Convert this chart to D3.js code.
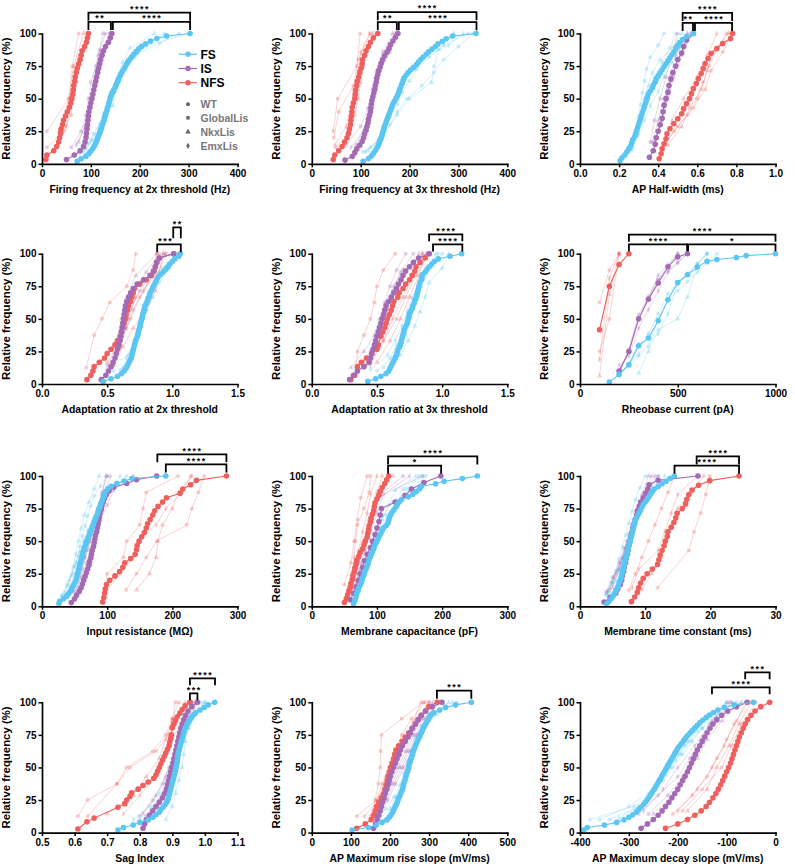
<!DOCTYPE html>
<html><head><meta charset="utf-8">
<script src="https://cdn.jsdelivr.net/npm/d3@7"></script>
<style>
body{margin:0;background:#fff}
svg text{font-family:"Liberation Sans",Arial,Helvetica,sans-serif;font-weight:bold}
</style>
</head><body>
<svg id="chart" width="795" height="867"></svg>
<script>
// ---------------- DATA (raw per-cell values; plotted as cumulative relative frequency) ----------------
const cellTypes = ["FS","IS","NFS"];
const genotypes = ["WT","GlobalLis","NkxLis","EmxLis"];

// 1. Firing frequency at 2x threshold (Hz)
const fr2_FS = [72,80,90,96,100,104,107,110,112,114,116,118,120,122,123,125,127,128,130,131,133,134,136,137,139,140,142,144,147,150,152,154,156,159,161,164,167,170,173,176,180,184,188,193,198,204,212,222,235,255,303];
const fr2_IS = [50,66,78,85,88,90,91,92,93,94,95,96,98,100,102,104,106,108,110,112,114,116,118,120,123,126,130,136,140,143];
const fr2_NFS = [8,10,24,30,34,36,38,39,42,44,48,52,56,59,61,63,64,65,67,68,70,72,75,78,80,82,87,91,93,95];
const fr2_FSg = [[75,95,105,118,125,135,140,150,160,175,195,240,280],[85,105,120,128,140,148,158,170,185,210,250],[90,110,125,145,150,155,165,180,230],[80,100,115,130,138,145,160,172,190,215,300]];
const fr2_ISg = [[60,80,90,95,100,110,118,130],[85,95,100,105,112,122,138],[75,92,100,108,115,125],[70,88,96,104,110,120,140]];
const fr2_NFSg = [[10,45,60,62,70,75,88,95],[10,55,62,75],[35,55,65,85],[30,50,58,65,72,82,92]];
const fr2_sig = [[95,303,1,"****"],[95,141,0,"**"],[145,303,0,"****"]];

// 2. Firing frequency at 3x threshold (Hz)
const fr3_FS = [105,116,122,126,130,133,136,138,140,142,144,145,147,148,150,152,154,156,158,160,162,164,166,169,172,175,177,179,181,183,185,187,189,193,197,202,208,214,218,223,228,234,239,246,253,258,267,275,288,336];
const fr3_IS = [68,83,88,92,98,103,106,108,111,113,115,116,118,120,121,122,123,125,127,129,130,132,133,135,137,140,142,145,149,154,158,161,166,171,176];
const fr3_NFS = [44,47,55,62,67,72,75,77,79,80,81,82,83,85,88,89,90,92,93,96,98,101,103,104,108,111,116,120,126,135];
const fr3_FSg = [[105,140,150,160,175,185,200,215,240,270,320],[115,145,160,175,195,225,250,270,300,330],[120,150,175,200,245,250,260,290],[110,135,145,155,165,175,190,210,230,280,310]];
const fr3_ISg = [[70,100,115,125,135,150,170],[95,112,120,128,140,160,178],[90,110,118,125,132,145,165],[80,105,117,122,130,138,155,175]];
const fr3_NFSg = [[45,55,85,95,120],[44,53,92,99],[50,78,88,95,100,105,112,125],[47,70,80,85,95,100,118]];
const fr3_sig = [[135,337,1,"****"],[135,174,0,"**"],[178,337,0,"****"]];

// 3. AP Half-width (ms)
const hw_FS = [0.205,0.215,0.23,0.24,0.25,0.26,0.265,0.27,0.28,0.285,0.29,0.295,0.30,0.305,0.31,0.315,0.32,0.325,0.33,0.335,0.34,0.345,0.35,0.36,0.37,0.375,0.385,0.39,0.40,0.41,0.42,0.43,0.44,0.45,0.46,0.47,0.48,0.49,0.50,0.51,0.525,0.545,0.58];
const hw_IS = [0.355,0.375,0.385,0.39,0.40,0.41,0.42,0.425,0.43,0.44,0.45,0.455,0.465,0.475,0.49,0.50,0.52,0.53,0.545,0.58];
const hw_NFS = [0.405,0.415,0.42,0.43,0.44,0.445,0.46,0.48,0.50,0.52,0.53,0.545,0.56,0.57,0.58,0.595,0.605,0.62,0.63,0.64,0.655,0.67,0.70,0.73,0.77,0.78];
const hw_FSg = [[0.25,0.27,0.29,0.30,0.31,0.32,0.33,0.34,0.36,0.40,0.43],[0.26,0.29,0.31,0.33,0.35,0.38,0.42,0.46,0.49],[0.25,0.28,0.30,0.32,0.33,0.35,0.37,0.41,0.48,0.52],[0.27,0.30,0.33,0.36,0.40,0.43,0.47,0.51,0.55]];
const hw_ISg = [[0.36,0.38,0.41,0.44,0.47,0.50],[0.38,0.42,0.45,0.48,0.52,0.57],[0.37,0.40,0.43,0.46,0.49,0.55],[0.39,0.43,0.46,0.50,0.58]];
const hw_NFSg = [[0.42,0.48,0.55,0.60,0.63,0.66,0.70,0.75],[0.43,0.50,0.58,0.64,0.67,0.73,0.78],[0.45,0.52,0.56,0.62,0.65,0.68,0.76],[0.44,0.47,0.53,0.60,0.65,0.70]];
const hw_sig = [[0.525,0.778,1,"****"],[0.525,0.578,0,"**"],[0.588,0.778,0,"****"]];

// 4. Adaptation ratio at 2x threshold
const ad2_FS = [0.47,0.53,0.58,0.61,0.63,0.645,0.655,0.665,0.675,0.685,0.69,0.695,0.70,0.705,0.71,0.715,0.72,0.73,0.735,0.74,0.745,0.75,0.755,0.76,0.765,0.77,0.775,0.78,0.785,0.79,0.80,0.81,0.815,0.825,0.83,0.84,0.85,0.86,0.87,0.88,0.89,0.91,0.93,0.95,0.965,0.98,1.0,1.02,1.05,1.06];
const ad2_IS = [0.455,0.49,0.51,0.53,0.545,0.56,0.57,0.58,0.59,0.60,0.605,0.61,0.615,0.62,0.625,0.63,0.635,0.64,0.65,0.665,0.68,0.70,0.73,0.78,0.83,0.855,0.87,0.88,0.90,1.01];
const ad2_NFS = [0.345,0.375,0.39,0.40,0.44,0.48,0.50,0.53,0.56,0.58,0.60,0.61,0.62,0.63,0.64,0.645,0.655,0.665,0.68,0.69,0.70,0.71,0.75,0.80,0.84,0.86,0.87,0.88,0.90,1.01];
const ad2_FSg = [[0.55,0.65,0.70,0.74,0.77,0.80,0.84,0.88,0.95,1.02],[0.60,0.68,0.73,0.77,0.80,0.85,0.90,0.98,1.05],[0.50,0.66,0.71,0.76,0.79,0.83,0.87,0.92,1.00],[0.62,0.70,0.75,0.78,0.82,0.86,0.93,1.03]];
const ad2_ISg = [[0.50,0.58,0.62,0.66,0.70,0.80,0.90],[0.55,0.60,0.64,0.68,0.75,0.85,0.95],[0.45,0.57,0.61,0.65,0.72,0.88],[0.52,0.60,0.65,0.70,0.78,0.86,0.93]];
const ad2_NFSg = [[0.34,0.40,0.40,0.46,0.52,0.65,0.70,0.72],[0.50,0.60,0.68,0.75,0.85,0.88],[0.55,0.62,0.70,0.80,0.87,0.90,0.93],[0.45,0.58,0.66,0.72,0.88,0.95]];
const ad2_sig = [[1.007,1.065,1,"**"],[0.884,1.065,0,"***",0.945]];

// 5. Adaptation ratio at 3x threshold
const ad3_FS = [0.43,0.49,0.53,0.57,0.59,0.60,0.61,0.62,0.63,0.64,0.65,0.655,0.66,0.67,0.68,0.685,0.69,0.695,0.70,0.705,0.71,0.72,0.73,0.735,0.74,0.745,0.75,0.76,0.77,0.775,0.785,0.79,0.80,0.805,0.81,0.815,0.82,0.825,0.83,0.84,0.845,0.85,0.87,0.885,0.90,0.92,0.94,0.97,1.06,1.15];
const ad3_IS = [0.29,0.32,0.35,0.40,0.44,0.45,0.46,0.47,0.48,0.49,0.50,0.51,0.52,0.53,0.54,0.55,0.56,0.57,0.59,0.61,0.63,0.65,0.665,0.685,0.70,0.72,0.75,0.78,0.82,0.90];
const ad3_NFS = [0.30,0.33,0.35,0.35,0.38,0.42,0.46,0.50,0.51,0.53,0.53,0.545,0.56,0.57,0.58,0.595,0.61,0.62,0.63,0.66,0.67,0.70,0.72,0.75,0.77,0.79,0.80,0.83,0.87,0.90];
const ad3_FSg = [[0.50,0.60,0.65,0.70,0.74,0.78,0.82,0.86,0.92,1.00],[0.55,0.65,0.72,0.76,0.80,0.84,0.88,0.95],[0.60,0.68,0.74,0.79,0.83,0.87,0.90,1.00,1.05],[0.45,0.58,0.64,0.69,0.73,0.77,0.82,0.88,0.97]];
const ad3_ISg = [[0.35,0.45,0.50,0.53,0.56,0.60,0.65,0.72],[0.42,0.50,0.55,0.58,0.62,0.68,0.78],[0.30,0.40,0.48,0.52,0.57,0.63,0.70,0.85],[0.45,0.52,0.57,0.62,0.66,0.72,0.82]];
const ad3_NFSg = [[0.34,0.35,0.40,0.45,0.48,0.50,0.55,0.64],[0.45,0.55,0.65,0.72,0.80,0.90],[0.50,0.60,0.68,0.75,0.82,0.88],[0.40,0.55,0.62,0.70,0.78,0.85]];
const ad3_sig = [[0.90,1.155,1,"****"],[0.93,1.155,0,"****"]];

// 6. Rheobase current (pA)
const rb_FS = [150,200,200,200,200,250,250,250,250,250,300,300,300,300,300,300,300,300,300,300,350,350,350,350,400,400,400,400,400,400,400,400,400,450,450,450,450,450,450,450,450,450,450,450,500,500,500,500,500,500,500,500,500,550,550,550,550,600,600,600,600,650,650,650,700,800,850,1000];
const rb_IS = [200,200,200,200,250,250,250,250,250,250,300,300,300,300,300,300,300,300,300,300,350,350,350,350,350,350,400,400,400,400,400,450,450,450,450,450,500,500,500,550];
const rb_NFS = [100,100,100,100,100,150,150,150,150,200,200,250];
const rb_FSg = [[200,250,300,300,350,400,400,450,450,500,550,600,650],[200,250,300,350,400,400,400,450,450,500,550,600,650,700],[300,350,350,400,400,500,550,550,600,600,600,650],[200,250,300,400,400,450,450,500,500,500,550,600,650]];
const rb_ISg = [[200,200,250,250,250,300,300,300,300,300,350,350,350,400,400,400,450,450,500,500],[200,250,250,250,300,300,300,300,350,350,400,400,450,500,550],[200,250,250,300,300,300,350,350,400,400,450,500],[200,200,250,300,300,300,350,350,400,400,450,450,500,550]];
const rb_NFSg = [[100,100,100,100,100,150,150,200],[100,150,200,200],[100,150,150,150,150,150,150,150,150,150,150,200,200,200,200,200],[100,100,100,150,150,150,150,150,150,150,150,150,150,200,200,200]];
const rb_sig = [[250,1000,1,"****"],[250,548,0,"****"],[553,1000,0,"*"]];

// 7. Input resistance (MΩ)
const ir_FS = [26,27,33,38,41,44,46,48,50,52,53,54,55,56,57,58,59,60,61,62,63,64,65,67,68,70,71,73,74,76,77,79,80,82,83,85,86,87,89,90,92,93,95,96,98,101,106,115,126,138,190];
const ir_IS = [45,50,53,57,60,62,64,66,68,70,72,73,75,76,77,79,80,81,82,84,85,86,87,88,89,91,92,94,96,99,103,110,130,145,176];
const ir_NFS = [93,95,96,97,99,104,112,119,124,127,136,143,145,146,149,153,157,160,162,166,170,173,178,185,191,212,216,228,237,283];
const ir_FSg = [[30,40,45,50,55,58,62,66,70,75,80,90,100],[35,45,50,55,60,65,72,80,88,98,110,130],[35,42,48,52,56,60,65,72,80,88],[30,38,46,52,58,64,70,78,86,95,105,120]];
const ir_ISg = [[45,55,65,72,78,85,92,100],[50,60,68,75,82,90,100,110,140],[55,62,70,78,85,92,98],[48,58,66,74,80,88,96,105]];
const ir_NFSg = [[96,100,125,130,150,155,160,209],[129,145,160,176,222,230,240,249],[145,165,175,178,185,200,210,230],[100,120,140,148,175,190,215,228]];
const ir_sig = [[177,283,1,"****"],[190,283,0,"****"]];

// 8. Membrane capacitance (pF)
const cm_FS = [64,66,67,68,69,71,72,74,76,77,78,80,81,83,84,86,87,88,90,91,93,95,96,98,100,102,104,106,108,110,114,117,118,119,121,123,126,129,131,134,138,148,155,160,165,168,190,203,231,254];
const cm_IS = [59,64,68,71,74,78,81,85,90,93,97,100,103,105,107,128,143,153,172,198];
const cm_NFS = [50,53,55,57,59,60,62,63,65,66,68,69,72,74,78,80,82,85,86,87,88,90,91,93,95,96,97,100,103,105,108,112,115,118];
const cm_FSg = [[65,72,80,88,95,102,110,125,140,165],[70,78,86,94,102,110,120,135,150,175],[68,75,84,92,100,108,118,128,160],[66,74,82,90,98,106,115,130,145,170]];
const cm_ISg = [[60,70,78,85,95,105,140],[65,75,82,90,100,110,170],[62,72,80,88,98,125],[68,76,84,93,103,150]];
const cm_NFSg = [[50,60,65,70,75,85],[55,62,65,67,70,80,88,90],[62,68,72,80,88,95,100,108],[58,65,72,78,85,90,100]];
const cm_sig = [[117,254,1,"****"],[117,198.5,0,"*"]];

// 9. Membrane time constant (ms)
const tau_FS = [4.1,4.5,4.8,5.1,5.3,5.5,5.7,5.9,6.0,6.2,6.3,6.4,6.5,6.6,6.7,6.8,6.9,7.0,7.1,7.2,7.3,7.4,7.5,7.6,7.7,7.8,7.9,8.0,8.1,8.2,8.3,8.4,8.5,8.7,8.9,9.1,9.3,9.5,9.7,10.0,10.3,10.6,10.8,11.1,11.4,12.0,12.6,13.2,13.8,14.5];
const tau_IS = [3.7,4.6,5.5,5.8,6.2,6.4,6.5,6.7,6.8,7.0,7.1,7.3,7.4,7.5,7.7,7.8,8.0,8.1,8.3,8.5,8.7,8.8,9.1,9.3,9.7,10.1,10.4,10.6,12.0,18.1];
const tau_NFS = [7.9,8.4,8.8,9.0,9.3,9.7,10.3,11.1,11.9,12.1,12.3,12.6,12.9,13.1,13.4,13.5,14.0,14.4,14.7,14.9,15.7,16.2,16.4,16.7,17.2,18.2,19.9,24.4];
const tau_FSg = [[4.0,4.8,5.5,6.0,6.5,7.0,7.5,8.0,8.5,9.2,10.0],[4.5,5.5,6.2,6.8,7.4,8.0,8.7,9.5,10.5,12.0],[4.2,5.0,5.8,6.5,7.2,7.9,8.6,9.4,10.3,11.5,14.0],[4.0,5.0,6.0,6.6,7.2,7.8,8.4,9.0,9.8,11.0,13.0]];
const tau_ISg = [[4.0,5.0,6.0,6.8,7.5,8.2,9.0,10.5,12.0],[4.5,5.5,6.5,7.2,8.0,8.8,9.8,11.0],[5.0,6.0,7.0,7.8,8.6,9.5,10.5],[4.2,5.2,6.2,7.0,7.8,8.6,9.4,10.2,11.5]];
const tau_NFSg = [[7.5,8.5,9.5,10.5,11.5,12.5,13.5,14.5],[11.9,16.7,16.7,17.5,18.5,19.3,19.9],[9.5,11.0,12.5,13.0,14.0,15.0,17.0,19.0],[8.0,9.0,12.0,13.0,14.0,15.0,18.0]];
const tau_sig = [[17.9,24.4,1,"****"],[14.5,24.4,0,"****"]];

// 10. Sag Index
const sag_FS = [0.733,0.75,0.78,0.80,0.826,0.84,0.85,0.86,0.865,0.873,0.878,0.883,0.887,0.889,0.891,0.893,0.895,0.897,0.899,0.901,0.903,0.905,0.907,0.909,0.911,0.912,0.914,0.915,0.916,0.917,0.918,0.92,0.922,0.924,0.926,0.928,0.931,0.933,0.935,0.937,0.94,0.944,0.948,0.953,0.958,0.964,0.972,0.985,0.998,1.01,1.03];
const sag_IS = [0.81,0.815,0.82,0.83,0.84,0.85,0.86,0.87,0.877,0.882,0.886,0.889,0.892,0.895,0.898,0.902,0.905,0.908,0.911,0.914,0.917,0.92,0.923,0.926,0.93,0.935,0.94,0.948,0.96,0.977];
const sag_NFS = [0.61,0.638,0.638,0.66,0.733,0.733,0.733,0.754,0.76,0.77,0.775,0.795,0.81,0.826,0.843,0.85,0.855,0.86,0.865,0.87,0.875,0.88,0.885,0.89,0.892,0.895,0.897,0.90,0.90,0.905,0.91,0.915,0.923,0.93,0.939,0.954];
const sag_FSg = [[0.80,0.84,0.87,0.89,0.90,0.91,0.92,0.93,0.95,0.98],[0.82,0.86,0.88,0.90,0.91,0.92,0.935,0.95,0.97,1.00],[0.88,0.90,0.91,0.92,0.93,0.935,0.94,0.95,0.97,1.00],[0.78,0.83,0.86,0.88,0.90,0.91,0.925,0.94,0.96,0.99]];
const sag_ISg = [[0.80,0.84,0.87,0.89,0.91,0.92,0.94,0.96],[0.82,0.86,0.88,0.90,0.915,0.93,0.95,0.98],[0.81,0.85,0.88,0.90,0.92,0.935,0.96],[0.83,0.87,0.89,0.905,0.92,0.94,0.97]];
const sag_NFSg = [[0.61,0.64,0.73,0.76,0.84,0.88,0.90,0.91],[0.64,0.73,0.73,0.77,0.85,0.89,0.90,0.92],[0.70,0.78,0.82,0.86,0.88,0.90,0.94],[0.75,0.80,0.85,0.87,0.90,0.93,0.96]];
const sag_sig = [[0.954,1.031,1,"****"],[0.954,0.977,0,"***"]];

// 11. AP Maximum rise slope (mV/ms)
const rise_FS = [103,145,165,180,192,198,203,207,210,213,216,219,221,224,227,229,232,234,235,237,239,241,243,245,247,248,250,252,254,256,258,260,263,265,268,271,274,277,280,283,286,289,293,297,300,305,312,327,342,368,408];
const rise_IS = [158,163,167,171,175,178,181,185,188,192,195,198,201,205,209,214,218,223,227,232,239,246,252,258,265,272,280,291,308,333];
const rise_NFS = [115,137,152,158,162,166,171,178,184,187,190,193,195,198,201,205,209,212,215,222,231,239,248,256,265,272,280,291,299,321];
const rise_FSg = [[150,190,210,225,235,245,255,265,280,300,330],[180,205,220,232,242,252,262,275,290,320,370],[195,215,228,240,250,260,270,285,305,350],[170,200,215,230,240,250,260,272,290,315,360]];
const rise_ISg = [[160,180,200,220,240,255,270,300],[170,190,210,230,250,265,285,330],[165,185,205,225,245,260,280,310],[175,195,215,235,255,270,290,320]];
const rise_NFSg = [[115,165,180,200,215,230,255,290],[150,162,170,175,176,178,230,285],[160,175,190,220,240,260,280],[135,170,195,210,225,250,275,300]];
const rise_sig = [[320,408,0,"***"]];

// 12. AP Maximum decay slope (mV/ms)
const dec_FS = [-392,-385,-350,-325,-310,-300,-292,-285,-280,-275,-270,-266,-262,-258,-255,-252,-248,-245,-242,-239,-236,-233,-230,-227,-224,-221,-218,-215,-212,-209,-206,-203,-200,-196,-192,-188,-184,-180,-175,-170,-165,-160,-155,-149,-142,-135,-127,-118,-105,-85,-45];
const dec_IS = [-275,-262,-250,-240,-232,-225,-218,-212,-206,-200,-195,-190,-185,-180,-176,-172,-168,-164,-160,-155,-150,-145,-140,-134,-128,-120,-110,-98,-80,-58];
const dec_NFS = [-225,-200,-180,-165,-152,-142,-135,-128,-122,-117,-112,-108,-104,-100,-96,-92,-89,-86,-83,-80,-77,-74,-70,-66,-62,-57,-50,-42,-30,-12];
const dec_FSg = [[-340,-280,-250,-230,-210,-190,-170,-150,-120,-80],[-360,-300,-260,-235,-215,-195,-175,-150,-110,-60],[-320,-270,-245,-225,-205,-185,-160,-130,-100],[-380,-290,-255,-240,-220,-200,-180,-160,-140,-90]];
const dec_ISg = [[-260,-220,-190,-170,-150,-120,-90],[-280,-240,-200,-175,-150,-130,-100],[-250,-210,-185,-160,-140,-110,-70],[-270,-230,-200,-165,-135,-95]];
const dec_NFSg = [[-210,-170,-140,-120,-100,-80,-60],[-190,-150,-110,-90,-70,-40],[-180,-140,-120,-95,-75,-50],[-200,-160,-130,-105,-85,-55]];
const dec_sig = [[-62,-12,1,"***"],[-130,-12,0,"****"]];

// axis tick values
const ticks_fr = [0,100,200,300,400];
const ticks_hw = [0.0,0.2,0.4,0.6,0.8,1.0];
const ticks_ad = [0.0,0.5,1.0,1.5];
const ticks_rb = [0,500,1000];
const ticks_300 = [0,100,200,300];
const ticks_tau = [0,10,20,30];
const ticks_sag = [0.5,0.6,0.7,0.8,0.9,1.0,1.1];
const ticks_rise = [0,100,200,300,400,500];
const ticks_dec = [-400,-300,-200,-100,0];
const ticks_y = [0,25,50,75,100];

const xTitles = ["Firing frequency at 2x threshold (Hz)","Firing frequency at 3x threshold (Hz)","AP Half-width (ms)",
  "Adaptation ratio at 2x threshold","Adaptation ratio at 3x threshold","Rheobase current (pA)",
  "Input resistance (MΩ)","Membrane capacitance (pF)","Membrane time constant (ms)",
  "Sag Index","AP Maximum rise slope (mV/ms)","AP Maximum decay slope (mV/ms)"];
const yTitle = "Relative frequency (%)";

// ---------------- LAYOUT / STYLE ----------------
const COL = {FS:"#5BC6F2", IS:"#A46BB4", NFS:"#EE5F5D"};
const colX = [42, 311.8, 580];
const rowY = [33.5, 253.7, 476, 702.3];
const W = 195.5, H = 130.3;
const f1 = v => v.toFixed(1), f0 = v => String(v);

const panels = [
 {dom:[0,400], ticks:ticks_fr, fmt:f0, d:[fr2_FS,fr2_IS,fr2_NFS], g:[fr2_FSg,fr2_ISg,fr2_NFSg], sig:fr2_sig, lv:[11.6,20.8], len:[8,8]},
 {dom:[0,400], ticks:ticks_fr, fmt:f0, d:[fr3_FS,fr3_IS,fr3_NFS], g:[fr3_FSg,fr3_ISg,fr3_NFSg], sig:fr3_sig, lv:[11.3,21.3], len:[8,8]},
 {dom:[0,1], ticks:ticks_hw, fmt:f1, d:[hw_FS,hw_IS,hw_NFS], g:[hw_FSg,hw_ISg,hw_NFSg], sig:hw_sig, lv:[10.6,20.6], len:[8,8]},
 {dom:[0,1.5], ticks:ticks_ad, fmt:f1, d:[ad2_FS,ad2_IS,ad2_NFS], g:[ad2_FSg,ad2_ISg,ad2_NFSg], sig:ad2_sig, lv:[9.4,26.4], len:[8,11]},
 {dom:[0,1.5], ticks:ticks_ad, fmt:f1, d:[ad3_FS,ad3_IS,ad3_NFS], g:[ad3_FSg,ad3_ISg,ad3_NFSg], sig:ad3_sig, lv:[9.3,19.4], len:[7,7]},
 {dom:[0,1000], ticks:ticks_rb, fmt:f0, d:[rb_FS,rb_IS,rb_NFS], g:[rb_FSg,rb_ISg,rb_NFSg], sig:rb_sig, lv:[9.4,19], len:[7,7]},
 {dom:[0,300], ticks:ticks_300, fmt:f0, d:[ir_FS,ir_IS,ir_NFS], g:[ir_FSg,ir_ISg,ir_NFSg], sig:ir_sig, lv:[11.6,21.7], len:[8,8]},
 {dom:[0,300], ticks:ticks_300, fmt:f0, d:[cm_FS,cm_IS,cm_NFS], g:[cm_FSg,cm_ISg,cm_NFSg], sig:cm_sig, lv:[10.3,19.6], len:[8,8]},
 {dom:[0,30], ticks:ticks_tau, fmt:f0, d:[tau_FS,tau_IS,tau_NFS], g:[tau_FSg,tau_ISg,tau_NFSg], sig:tau_sig, lv:[10.3,19.6], len:[8,8]},
 {dom:[0.5,1.1], ticks:ticks_sag, fmt:f1, d:[sag_FS,sag_IS,sag_NFS], g:[sag_FSg,sag_ISg,sag_NFSg], sig:sag_sig, lv:[9,24], len:[7,7]},
 {dom:[0,500], ticks:ticks_rise, fmt:f0, d:[rise_FS,rise_IS,rise_NFS], g:[rise_FSg,rise_ISg,rise_NFSg], sig:rise_sig, lv:[11.6,20], len:[8,8]},
 {dom:[-400,0], ticks:ticks_dec, fmt:f0, d:[dec_FS,dec_IS,dec_NFS], g:[dec_FSg,dec_ISg,dec_NFSg], sig:dec_sig, lv:[15,30], len:[7,7]}
];

const SYM = [d3.symbolCircle, d3.symbolSquare, d3.symbolTriangle, d3.symbolDiamond];
const SYMSIZE = [13, 12, 13, 11];

function ecdf(vals){
  const s = vals.slice().sort((a,b)=>a-b), n = s.length, out = [];
  s.forEach((v,i)=>{ if(i<n-1 && s[i+1]===v) return; out.push([v,(i+1)/n*100]); });
  return out;
}

const svg = d3.select("#chart");

panels.forEach((p, idx) => {
  const col = idx % 3, row = Math.floor(idx/3);
  const x0 = colX[col], y0 = rowY[row];
  const xs = d3.scaleLinear().domain(p.dom).range([x0, x0+W]);
  const ys = d3.scaleLinear().domain([0,100]).range([y0+H, y0]);
  const g = svg.append("g");
  const line = d3.line().x(d=>xs(d[0])).y(d=>ys(d[1]));

  // faint genotype series
  cellTypes.forEach((t, ti) => {
    p.g[ti].forEach((vals, gi) => {
      const pts = ecdf(vals);
      g.append("path").attr("d", line(pts)).attr("fill","none")
        .attr("stroke", COL[t]).attr("stroke-opacity", 0.28).attr("stroke-width", 1);
      g.selectAll(null).data(pts).join("path")
        .attr("transform", d=>`translate(${xs(d[0])},${ys(d[1])})`)
        .attr("d", d3.symbol(SYM[gi], SYMSIZE[gi])())
        .attr("fill", COL[t]).attr("fill-opacity", 0.3);
    });
  });

  // bold pooled series: NFS, IS, FS
  [2,1,0].forEach(ti => {
    const t = cellTypes[ti];
    const pts = ecdf(p.d[ti]);
    g.append("path").attr("d", line(pts)).attr("fill","none")
      .attr("stroke", COL[t]).attr("stroke-width", 1.1);
    g.selectAll(null).data(pts).join("circle")
      .attr("cx", d=>xs(d[0])).attr("cy", d=>ys(d[1])).attr("r", 2.8)
      .attr("fill", COL[t]);
  });

  // axes
  const xa = g.append("g").attr("transform", `translate(0,${y0+H})`)
    .call(d3.axisBottom(xs).tickValues(p.ticks).tickFormat(p.fmt).tickSize(3.5).tickSizeOuter(0).tickPadding(2.5));
  const ya = g.append("g").attr("transform", `translate(${x0},0)`)
    .call(d3.axisLeft(ys).tickValues(ticks_y).tickFormat(f0).tickSize(3.5).tickSizeOuter(0).tickPadding(2));
  [xa, ya].forEach(a => {
    a.select(".domain").attr("stroke","#000").attr("stroke-width",1.7).attr("stroke-linecap","square");
    a.selectAll(".tick line").attr("stroke","#000").attr("stroke-width",1.5);
    a.selectAll(".tick text").attr("fill","#000").attr("font-size","10px")
      .attr("font-family",'"Liberation Sans",Arial,sans-serif').attr("font-weight","bold");
  });

  // titles
  g.append("text").attr("x", x0+W/2).attr("y", y0+H+29).attr("text-anchor","middle")
    .attr("font-size","10.4px").attr("fill","#000").text(xTitles[idx]);
  g.append("text").attr("transform", `translate(${x0-32},${y0+H/2}) rotate(-90)`)
    .attr("text-anchor","middle").attr("font-size","11.4px").attr("fill","#000").text(yTitle);

  // significance brackets
  p.sig.forEach(([a,b,lvl,label,cx]) => {
    const yb = y0 - p.lv[lvl], L = p.len[lvl];
    g.append("path").attr("d", `M${xs(a)},${yb+L}V${yb}H${xs(b)}V${yb+L}`)
      .attr("fill","none").attr("stroke","#000").attr("stroke-width",1.8);
    const tx = cx !== undefined ? xs(cx) : (xs(a)+xs(b))/2;
    g.append("text").attr("x", tx + 0.7).attr("y", yb - 0.8).attr("text-anchor","middle")
      .attr("font-size","8.8px").attr("letter-spacing","1.6px").attr("fill","#000").text(label);
  });
});

// legend (panel 1)
const legCell = [54.3, 68.5, 82.7];
cellTypes.forEach((t,i) => {
  svg.append("line").attr("x1",178.5).attr("x2",197).attr("y1",legCell[i]).attr("y2",legCell[i])
    .attr("stroke",COL[t]).attr("stroke-width",1.2);
  svg.append("circle").attr("cx",188).attr("cy",legCell[i]).attr("r",2.7).attr("fill",COL[t]);
  svg.append("text").attr("x",200.5).attr("y",legCell[i]+4.4).attr("font-size","12px").attr("fill","#000").text(t);
});
const legGeno = [104.3, 117.8, 131.8, 145.8];
genotypes.forEach((gname,i) => {
  svg.append("path").attr("transform",`translate(188,${legGeno[i]})`)
    .attr("d", d3.symbol(SYM[i], SYMSIZE[i])()).attr("fill","#666");
  svg.append("text").attr("x",200.5).attr("y",legGeno[i]+3.8).attr("font-size","10.5px").attr("fill","#777").text(gname);
});
</script>
</body></html>
